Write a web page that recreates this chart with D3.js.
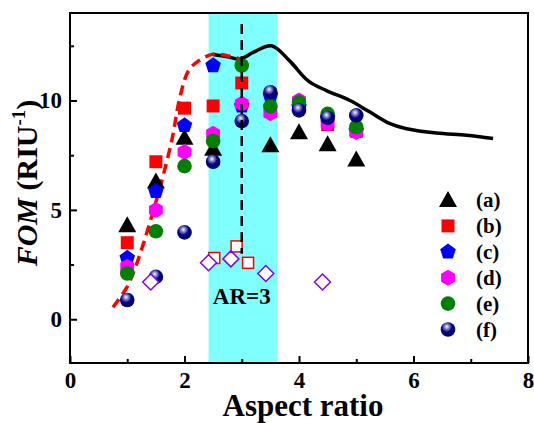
<!DOCTYPE html>
<html>
<head>
<meta charset="utf-8">
<script src="https://cdn.jsdelivr.net/npm/d3@7"></script>
<style>
    body { margin: 0; background: #fff; }
    .tick line { stroke: #000; stroke-width: 2; }
</style>
</head>
<body>
<div id="chart"></div>
<script>
// aspect ratios of the simulated structures
var ratios = [1, 1.5, 2, 2.5, 3, 3.5, 4, 4.5, 5];

// FOM of the six structures (a)-(f)
var fomA = [4.3, 6.3, 8.3, 7.8, null, 7.95, 8.55, 8.0, 7.3];
var fomB = [3.5, 7.2, 9.65, 9.75, 10.8, 9.5, 9.8, 8.9, 8.6];
var fomC = [2.8, 5.85, 8.86, 11.6, 9.75, 10.2, 9.7, 9.2, 8.6];
var fomD = [2.4, 5.0, 7.65, 8.48, 9.85, 9.42, 10.0, 8.94, 8.56];
var fomE = [2.09, 4.02, 7.0, 8.15, 11.6, 9.73, 9.92, 9.39, 8.79];
var fomF = [0.88, 1.94, 3.97, 7.2, 9.06, 10.38, 9.55, 9.21, 9.32];

// open markers
var openSquareX = [2.52, 2.91, 3.11];
var openSquareY = [2.8, 3.33, 2.58];
var diamondX = [1.41, 2.42, 2.81, 3.42, 4.41];
var diamondY = [1.7, 2.58, 2.76, 2.09, 1.7];

// red dashed trend and black solid curve
var dashCurveX = [0.75, 0.99, 1.14, 1.3, 1.51, 1.6, 1.78, 1.92, 2.07, 2.24, 2.5, 2.74, 2.97];
var dashCurveY = [0.55, 1.45, 2.36, 3.6, 5.45, 6.3, 8.2, 10.15, 11.36, 11.8, 12.12, 12.05, 11.9];
var solidCurveX = [2.5, 2.75, 2.97, 3.2, 3.52, 3.84, 4.16, 4.48, 4.89, 5.24, 5.59, 5.88, 6.4, 6.93, 7.39];
var solidCurveY = [12.1, 12.0, 11.9, 12.2, 12.5, 11.8, 10.9, 10.45, 10.0, 9.47, 8.94, 8.71, 8.51, 8.41, 8.26];

// highlighted range and marked AR
var bandRange = [2.42, 3.62];
var markAR = 3;

var xTicks = [0, 2, 4, 6, 8];
var yTicks = [0, 5, 10];
var legendLabels = ["(a)", "(b)", "(c)", "(d)", "(e)", "(f)"];

function init() {
    var w = 534;
    var h = 423;
    var left = 70, right = 528, top = 13, bottom = 363;

    var xScale = d3.scaleLinear().domain([0, 8]).range([left, right]);
    var yScale = d3.scaleLinear().domain([-2, 14]).range([bottom, top]);

    var svg = d3.select("#chart")
        .append("svg")
        .attr("width", w)
        .attr("height", h);

    var defs = svg.append("defs");
    var grad = defs.append("radialGradient")
        .attr("id", "ball")
        .attr("cx", "0.42").attr("cy", "0.35").attr("r", "0.65")
        .attr("fx", "0.42").attr("fy", "0.3");
    grad.append("stop").attr("offset", "0").attr("stop-color", "#ffffff");
    grad.append("stop").attr("offset", "0.22").attr("stop-color", "#8f8fd0");
    grad.append("stop").attr("offset", "0.55").attr("stop-color", "#000088");
    grad.append("stop").attr("offset", "1").attr("stop-color", "#00005a");

    // cyan band
    svg.append("rect")
        .attr("x", xScale(bandRange[0]))
        .attr("y", top)
        .attr("width", xScale(bandRange[1]) - xScale(bandRange[0]))
        .attr("height", bottom - top)
        .attr("fill", "#80ffff");

    // axes with inward ticks
    function clean(g) {
        g.select(".domain").remove();
        g.selectAll("text").style("font-size", "23px").attr("fill", "#000");
    }
    var xAxis = d3.axisBottom(xScale).tickValues(xTicks).tickSize(-7).tickPadding(9)
        .tickFormat(d3.format("d"));
    svg.append("g").attr("transform", "translate(0," + bottom + ")").call(xAxis).call(clean);
    var xMinor = d3.axisBottom(xScale).tickValues([1, 3, 5, 7]).tickSize(-4).tickFormat("");
    svg.append("g").attr("transform", "translate(0," + bottom + ")").call(xMinor).call(clean);

    var yAxis = d3.axisLeft(yScale).tickValues(yTicks).tickSize(-7).tickPadding(8)
        .tickFormat(d3.format("d"));
    svg.append("g").attr("transform", "translate(" + left + ",0)").call(yAxis).call(clean);
    var yMinor = d3.axisLeft(yScale).tickValues([2.5, 7.5, 12.5]).tickSize(-4).tickFormat("");
    svg.append("g").attr("transform", "translate(" + left + ",0)").call(yMinor).call(clean);

    // curves
    var line = d3.line()
        .x(function(d) { return xScale(d[0]); })
        .y(function(d) { return yScale(d[1]); })
        .curve(d3.curveCatmullRom);

    svg.append("path")
        .datum(d3.zip(solidCurveX, solidCurveY))
        .attr("d", line)
        .attr("fill", "none")
        .attr("stroke", "#000")
        .attr("stroke-width", 3.5);

    svg.append("path")
        .datum(d3.zip(dashCurveX, dashCurveY))
        .attr("d", line)
        .attr("fill", "none")
        .attr("stroke", "#ff0000")
        .attr("stroke-width", 3.5)
        .attr("stroke-dasharray", "10,6");

    // marker shapes
    function polygon(n, r, rot) {
        var pts = d3.range(n).map(function(i) {
            var a = rot + i * 2 * Math.PI / n;
            return [r * Math.cos(a), r * Math.sin(a)];
        });
        return "M" + pts.join("L") + "Z";
    }
    var triangle = "M0,-9L9,7L-9,7Z";
    var square = "M-6.5,-6.5H6.5V6.5H-6.5Z";
    var pentagon = polygon(5, 8.2, -Math.PI / 2);
    var hexagon = polygon(6, 8, -Math.PI / 2);

    var series = [
        { vals: fomA, type: "path", d: triangle, fill: "#000000" },
        { vals: fomB, type: "path", d: square, fill: "#ff0000" },
        { vals: fomC, type: "path", d: pentagon, fill: "#0000ff" },
        { vals: fomD, type: "path", d: hexagon, fill: "#ff00ff" },
        { vals: fomE, type: "circle", r: 7.3, fill: "#008000" },
        { vals: fomF, type: "circle", r: 7.3, fill: "url(#ball)" }
    ];

    function drawMarker(g, s) {
        if (s.type === "circle") {
            g.append("circle").attr("r", s.r).attr("fill", s.fill);
        } else {
            g.append("path").attr("d", s.d).attr("fill", s.fill);
        }
    }

    series.forEach(function(s) {
        var pts = d3.zip(ratios, s.vals).filter(function(d) { return d[1] !== null; });
        svg.append("g").selectAll("g")
            .data(pts)
            .enter()
            .append("g")
            .attr("transform", function(d) {
                return "translate(" + xScale(d[0]) + "," + yScale(d[1]) + ")";
            })
            .each(function() { drawMarker(d3.select(this), s); });
    });

    // open squares and diamonds
    svg.append("g").selectAll("rect")
        .data(d3.zip(openSquareX, openSquareY))
        .enter()
        .append("rect")
        .attr("x", function(d) { return xScale(d[0]) - 5.5; })
        .attr("y", function(d) { return yScale(d[1]) - 5.5; })
        .attr("width", 11)
        .attr("height", 11)
        .attr("fill", "#fff")
        .attr("stroke", "#ff0000")
        .attr("stroke-width", 1.5);

    svg.append("g").selectAll("path")
        .data(d3.zip(diamondX, diamondY))
        .enter()
        .append("path")
        .attr("d", "M0,-8L8,0L0,8L-8,0Z")
        .attr("transform", function(d) {
            return "translate(" + xScale(d[0]) + "," + yScale(d[1]) + ")";
        })
        .attr("fill", "#fff")
        .attr("stroke", "#8000ff")
        .attr("stroke-width", 1.5);

    // AR = 3 marker line
    svg.append("line")
        .attr("x1", xScale(markAR))
        .attr("x2", xScale(markAR))
        .attr("y1", yScale(13.5))
        .attr("y2", yScale(3))
        .attr("stroke", "#000")
        .attr("stroke-width", 2.5)
        .attr("stroke-dasharray", "10,6");

    svg.append("text")
        .attr("x", xScale(markAR))
        .attr("y", 304)
        .attr("text-anchor", "middle")
        .style("font-size", "23px")
        .text("AR=3");

    // frame
    svg.append("rect")
        .attr("x", left)
        .attr("y", top)
        .attr("width", right - left)
        .attr("height", bottom - top)
        .attr("fill", "none")
        .attr("stroke", "#000")
        .attr("stroke-width", 2);

    // legend
    var legend = svg.append("g");
    series.forEach(function(s, i) {
        var yy = 200 + i * 25.9;
        var g = legend.append("g").attr("transform", "translate(448," + yy + ")");
        drawMarker(g, s);
        legend.append("text")
            .attr("x", 476)
            .attr("y", yy + 7)
            .style("font-size", "21px")
            .text(legendLabels[i]);
    });

    // axis titles
    svg.append("text")
        .attr("x", 303)
        .attr("y", 416)
        .attr("text-anchor", "middle")
        .style("font-size", "31px")
        .text("Aspect ratio");

    var yTitle = svg.append("text")
        .attr("transform", "translate(37,183) rotate(-90)")
        .attr("text-anchor", "middle")
        .style("font-size", "30px");
    yTitle.append("tspan").style("font-style", "italic").text("FOM");
    yTitle.append("tspan").text(" (RIU");
    yTitle.append("tspan").attr("dy", -12).style("font-size", "19px").text("-1");
    yTitle.append("tspan").attr("dy", 12).text(")");

    // serif bold for every label
    svg.selectAll("text")
        .style("font-family", "'Liberation Serif'")
        .style("font-weight", "bold");
}

// draw right away so the fonts are in place before the page settles
init();
</script>
</body>
</html>
